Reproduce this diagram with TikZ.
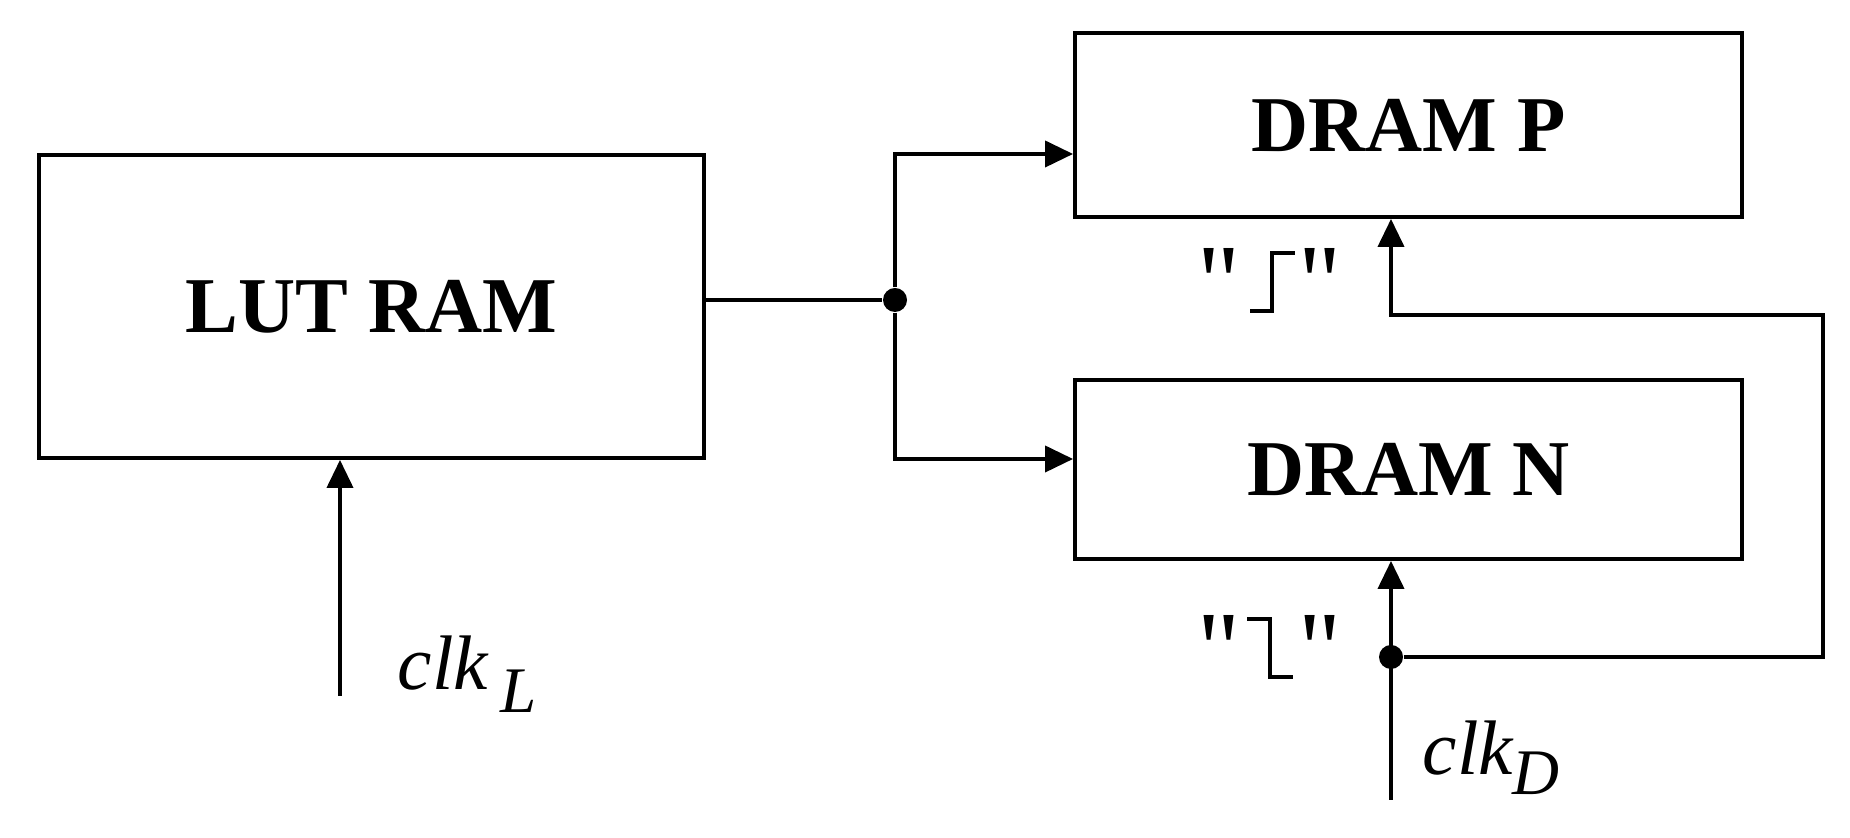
\documentclass[tikz,border=0pt]{standalone}
\usepackage{fontspec}
\setmainfont{Liberation Serif}
\usetikzlibrary{arrows.meta}

\begin{document}
\begin{tikzpicture}[
    block/.style = {draw, line width=1.1pt, inner sep=0pt, font=\bfseries\fontsize{22.5}{26}\selectfont},
    wire/.style = {line width=1.1pt},
    sig/.style = {wire, -{Triangle[length=2.8mm, width=2.6mm]}},
    dot/.style = {circle, fill, inner sep=0pt, minimum size=2.4mm},
    clk/.style = {anchor=base west, inner sep=0pt, font=\itshape\fontsize{22}{26}\selectfont},
    qmark/.style = {anchor=north, inner sep=0pt, font=\fontsize{30}{34}\selectfont},
    wave/.style = {line width=1pt}
]
    \useasboundingbox (0,0) rectangle (18.5,8.38);

    % --- Blocs ---
    \node[block, minimum width=6.65cm, minimum height=3.03cm] (lut) at (3.715,5.315) {LUT RAM};
    \node[block, minimum width=6.67cm, minimum height=1.84cm] (dp) at (14.085,7.13) {DRAM P};
    \node[block, minimum width=6.67cm, minimum height=1.79cm] (dn) at (14.085,3.685) {DRAM N};

    % --- Points de jonction ---
    \node[dot] (split) at (8.95,5.38) {};
    \node[dot] (fb) at (13.91,1.81) {};
    \coordinate (toP) at (0,6.84);
    \coordinate (toN) at (0,3.79);
    \coordinate (ret) at (18.23,5.23);
    \coordinate (clkLin) at (3.40,1.42);
    \coordinate (clkDin) at (13.91,0.38);

    % --- Sortie LUT vers les deux DRAM ---
    \draw[wire] (lut.east |- split) -- (split);
    \draw[sig] (split) |- (dp.west |- toP);
    \draw[sig] (split) |- (dn.west |- toN);

    % --- Horloges ---
    \draw[sig] (clkLin) -- (clkLin |- lut.south);
    \draw[sig] (clkDin) -- (clkDin |- dn.south);
    \draw[sig] (fb) -| (ret) -| (fb |- dp.south);

    \node[clk] (clkL) at (3.97,1.48) {clk\,\raisebox{-2.3mm}{\fontsize{18.5}{20}\selectfont L}};
    \node[clk] (clkD) at (14.22,0.63) {clk\raisebox{-2mm}{\fontsize{18.5}{20}\selectfont D}};

    % --- Fronts ---
    \node[qmark] (riselbl) at (12.70,5.90) {\textquotedbl\hspace{5.8mm}\textquotedbl};
    \draw[wave] ([shift={(-0.20,-0.63)}]riselbl.north) -- ++(0.22,0) -- ++(0,0.58) -- ++(0.23,0);
    \node[qmark] (falllbl) at (12.70,2.23) {\textquotedbl\hspace{5.8mm}\textquotedbl};
    \draw[wave] ([shift={(-0.23,-0.04)}]falllbl.north) -- ++(0.23,0) -- ++(0,-0.58) -- ++(0.23,0);

\end{tikzpicture}
\end{document}
